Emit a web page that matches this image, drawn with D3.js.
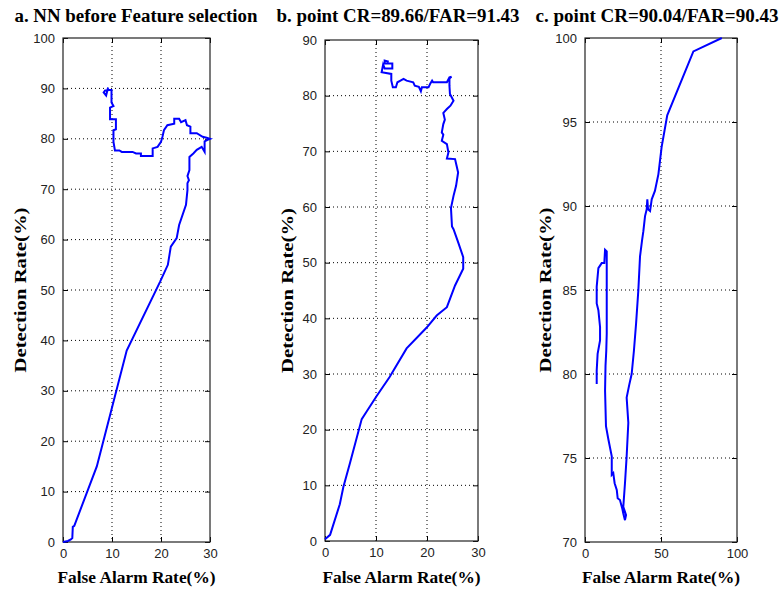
<!DOCTYPE html>
<html>
<head>
<meta charset="utf-8">
<script src="https://cdn.jsdelivr.net/npm/d3@7"></script>
<style>
  body { margin: 0; background: #fff; }
  svg { display: block; }
  .tick text { font-family: "Liberation Sans", Arial, sans-serif; font-size: 13px; fill: #222; }
  .ttl { font-family: "Liberation Serif", "Times New Roman", serif; font-weight: bold; font-size: 18.5px; fill: #000; }
  .lbl { font-family: "Liberation Serif", "Times New Roman", serif; font-weight: bold; font-size: 17px; fill: #000; }
</style>
</head>
<body>
<div id="chart"></div>
<script>
// panel titles
const titles = ["a. NN before Feature selection", "b. point CR=89.66/FAR=91.43", "c. point CR=90.04/FAR=90.43"];
const xLabel = "False Alarm Rate(%)";
const yLabel = "Detection Rate(%)";

// tick values
const xTicksA = [0, 10, 20, 30];
const yTicksA = [0, 10, 20, 30, 40, 50, 60, 70, 80, 90, 100];
const xTicksB = [0, 10, 20, 30];
const yTicksB = [0, 10, 20, 30, 40, 50, 60, 70, 80, 90];
const xTicksC = [0, 50, 100];
const yTicksC = [70, 75, 80, 85, 90, 95, 100];

// curves: [false alarm rate, detection rate]
const curveA = [
  [0, 0], [1, 0.2], [1.6, 0.5], [1.9, 0.8], [2, 3], [2.3, 3.2], [6.9, 15], [13, 38],
  [19.8, 51.6], [21.4, 55], [22, 58.6], [23.2, 60.3], [23.7, 62.9], [25.1, 66.9],
  [25.4, 69.8], [25.4, 71.2], [25.7, 71.8], [25.4, 72.6], [25.8, 73.8], [25.8, 76.4],
  [26.6, 77.1], [27.3, 77.8], [28.3, 78.4], [28.9, 77.4], [28.9, 79.5], [29.5, 79.8],
  [30, 80], [29.3, 80.2], [28.5, 80.4], [27.3, 81.1], [26, 81.1], [26, 82.4], [25.3, 82.7],
  [25, 83.7], [24.1, 83.3], [23.7, 84], [22.7, 84], [22.7, 83], [21.3, 82.7], [20.6, 81.7],
  [20.3, 80.4], [20, 79.4], [19.3, 78.4], [18.3, 78.1], [18.3, 76.6], [15.9, 76.6],
  [15.9, 77.1], [14.9, 77.1], [14.2, 77.4], [12, 77.4], [11.5, 77.7], [10.6, 77.7],
  [10.3, 79.4], [10.3, 81.7], [10.8, 81.9], [10.8, 83.9], [9.6, 83.9], [9.6, 86.2],
  [10.3, 86.5], [9.9, 87.2], [9.9, 89.7], [9.5, 89.7], [8.6, 89.6], [8.3, 89.2],
  [8.8, 88.6], [9.2, 90.2]
];
const curveB = [
  [0, 0.3], [1, 1.1], [2.9, 6.6], [3.6, 9.7], [4.9, 14], [7.2, 21.9], [8.2, 23.3],
  [10.1, 26], [12.7, 29.5], [16, 34.6], [19.9, 38.3], [21.9, 40.5], [23.9, 42],
  [25.5, 45.9], [27.1, 48.9], [27.1, 51], [26.1, 53.7], [25.2, 56], [24.9, 56.5],
  [24.7, 59.8], [25.2, 62], [25.7, 63.8], [26.1, 66.2], [25.8, 67.4], [25.5, 68.6],
  [23.9, 68.7], [24.2, 69.8], [23.9, 71.3], [22.9, 71.9], [23.2, 73], [22.9, 73.4],
  [23.2, 74.9], [23.5, 75.7], [23.2, 76.9], [23.9, 77.6], [24.6, 78.2], [25.2, 79.1],
  [24.5, 80.3], [24.4, 81.8], [24.4, 83.1], [24.8, 83.4], [24.4, 83.3], [23.9, 82.4],
  [21.2, 82.4], [21, 82.7], [20.6, 82.1], [20.3, 81.5], [19, 81.5], [18.8, 80.8],
  [18.4, 81.6], [17.6, 81.8], [17.3, 82.4], [16, 82.7], [15.4, 83], [14.8, 82.7],
  [14.2, 82.4], [13.9, 81.5], [13.3, 81.5], [13, 82.7], [13, 83.9], [11.1, 84.2],
  [11.4, 85.6], [11.7, 84.9], [13.2, 84.9], [13.2, 85.8], [11.7, 85.8], [11.7, 86.3],
  [12.5, 86.1]
];
const curveC = [
  [7.7, 79.4], [7.7, 80.2], [8.3, 81.2], [9.9, 82], [9.9, 82.8], [8.8, 83.8], [7.7, 84.2],
  [7.7, 85.2], [8.8, 86.3], [11, 86.6], [12.7, 86.6], [13.2, 87.4], [14.3, 87.3],
  [14.3, 86.4], [14.3, 85], [14.3, 82.4], [14, 81.4], [13.5, 80.5], [13.2, 79],
  [13.8, 76.9], [15.4, 76.1], [17.6, 75.1], [17.6, 74], [18.6, 74.1], [19.5, 73.5],
  [20.9, 73.1], [21.5, 72.6], [23, 72.5], [24.5, 72], [25.2, 71.7], [26.3, 71.3],
  [27, 71.6], [25.2, 72.1], [26.3, 73.5], [27.4, 75.1], [28.5, 77.1], [27.4, 78.6],
  [29.1, 79.35], [30.7, 80], [32.2, 81.4], [33.6, 83], [35.1, 85], [36.2, 87],
  [37.6, 88], [38.4, 88.5], [39.5, 89.4], [40.6, 89.8], [41, 90.4], [41.5, 89.8],
  [42.8, 89.7], [43.9, 90.4], [46, 90.9], [48.3, 91.9], [50.4, 93.5], [54.1, 95.4],
  [71.3, 99.2], [90, 100]
];

const width = 783, height = 590;

const panels = [
  { title: titles[0], curve: curveA, xd: [0, 30], yd: [0, 100], xt: xTicksA, yt: yTicksA,
    left: 63, right: 210, top: 38, bottom: 542, yLab: 20, tx: 136 },
  { title: titles[1], curve: curveB, xd: [0, 30], yd: [0, 90], xt: xTicksB, yt: yTicksB,
    left: 325, right: 478, top: 40, bottom: 541, yLab: 287, tx: 398 },
  { title: titles[2], curve: curveC, xd: [0, 100], yd: [70, 100], xt: xTicksC, yt: yTicksC,
    left: 585, right: 737, top: 38, bottom: 542, yLab: 545, tx: 657 }
];

const svg = d3.select("#chart").append("svg")
  .attr("width", width)
  .attr("height", height);

panels.forEach(p => {
  const x = d3.scaleLinear().domain(p.xd).range([p.left, p.right]);
  const y = d3.scaleLinear().domain(p.yd).range([p.bottom, p.top]);
  const g = svg.append("g");

  // dotted grid
  g.selectAll(".gx").data(p.xt.slice(1, -1)).enter().append("line")
    .attr("x1", d => x(d)).attr("x2", d => x(d))
    .attr("y1", p.top).attr("y2", p.bottom)
    .attr("stroke", "#000").attr("stroke-width", 1).attr("stroke-dasharray", "1,3");
  g.selectAll(".gy").data(p.yt.slice(1, -1)).enter().append("line")
    .attr("x1", p.left).attr("x2", p.right)
    .attr("y1", d => y(d)).attr("y2", d => y(d))
    .attr("stroke", "#000").attr("stroke-width", 1).attr("stroke-dasharray", "1,3");

  // axes, ticks pointing inward
  const ax = (gg) => gg.select(".domain").remove();
  g.append("g").attr("transform", `translate(0,${p.bottom})`)
    .call(d3.axisBottom(x).tickValues(p.xt).tickSize(-5).tickPadding(7).tickFormat(d3.format("d")))
    .call(ax);
  g.append("g").attr("transform", `translate(0,${p.top})`)
    .call(d3.axisTop(x).tickValues(p.xt).tickSize(-5).tickFormat(""))
    .call(ax);
  g.append("g").attr("transform", `translate(${p.left},0)`)
    .call(d3.axisLeft(y).tickValues(p.yt).tickSize(-5).tickPadding(8).tickFormat(d3.format("d")))
    .call(ax);
  g.append("g").attr("transform", `translate(${p.right},0)`)
    .call(d3.axisRight(y).tickValues(p.yt).tickSize(-5).tickFormat(""))
    .call(ax);
  g.selectAll(".tick line").attr("stroke", "#000");

  // box
  g.append("rect")
    .attr("x", p.left).attr("y", p.top)
    .attr("width", p.right - p.left).attr("height", p.bottom - p.top)
    .attr("fill", "none").attr("stroke", "#222").attr("stroke-width", 1.2);

  // curve
  const line = d3.line().x(d => x(d[0])).y(d => y(d[1]));
  g.append("path").datum(p.curve)
    .attr("d", line)
    .attr("fill", "none")
    .attr("stroke", "#0000ff")
    .attr("stroke-width", 2)
    .attr("stroke-linejoin", "miter");

  const cx = (p.left + p.right) / 2;
  g.append("text").attr("class", "ttl")
    .attr("x", p.tx).attr("y", 22).attr("text-anchor", "middle")
    .attr("textLength", 243).attr("lengthAdjust", "spacingAndGlyphs")
    .text(p.title);
  g.append("text").attr("class", "lbl")
    .attr("x", cx).attr("y", 583).attr("text-anchor", "middle")
    .attr("textLength", 158).attr("lengthAdjust", "spacingAndGlyphs")
    .text(xLabel);
  g.append("text").attr("class", "lbl")
    .attr("transform", `translate(${p.yLab + 6},${(p.top + p.bottom) / 2}) rotate(-90)`)
    .attr("text-anchor", "middle")
    .attr("textLength", 165).attr("lengthAdjust", "spacingAndGlyphs")
    .text(yLabel);
});
</script>
</body>
</html>
